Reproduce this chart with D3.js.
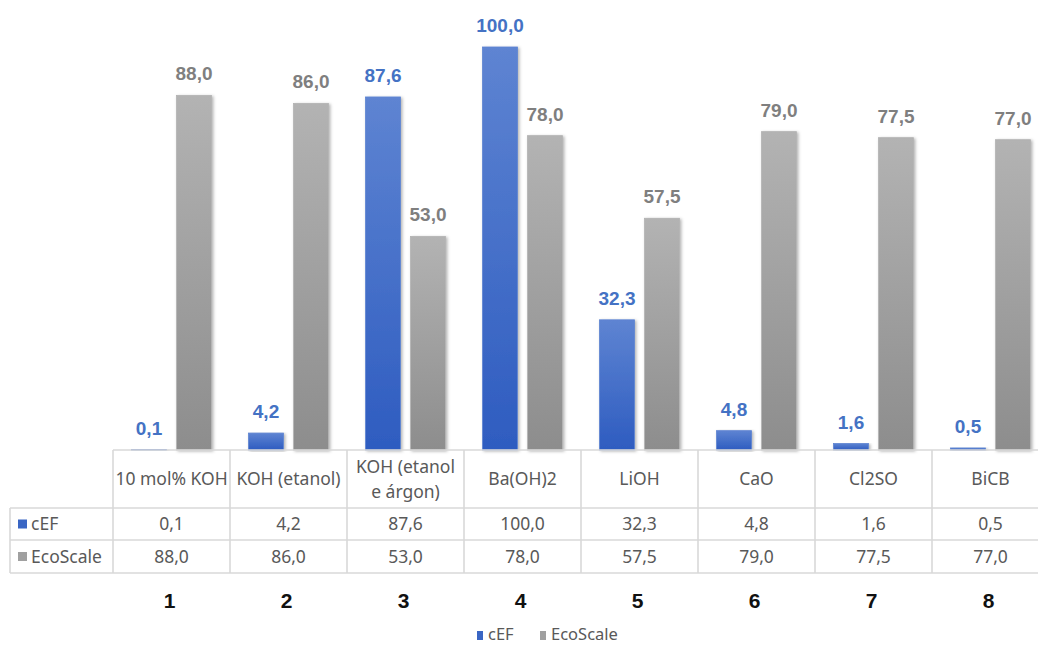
<!DOCTYPE html>
<html>
<head>
<meta charset="utf-8">
<script src="https://cdn.jsdelivr.net/npm/d3@7"></script>
<style>
  html, body { margin: 0; padding: 0; background: #ffffff; }
  svg { display: block; }
</style>
</head>
<body>
<svg id="chart" width="1038" height="646"></svg>
<script>
// Catalyst labels (header row of the data table); "\n" splits a label into two lines
const categories = ["10 mol% KOH", "KOH (etanol)", "KOH (etanol\ne árgon)", "Ba(OH)2", "LiOH", "CaO", "Cl2SO", "BiCB"];
// Entry numbers printed under the table
const entryLabels = ["1", "2", "3", "4", "5", "6", "7", "8"];
// Series
const seriesNames = ["cEF", "EcoScale"];
const cEF = [0.1, 4.2, 87.6, 100.0, 32.3, 4.8, 1.6, 0.5];
const ecoScale = [88.0, 86.0, 53.0, 78.0, 57.5, 79.0, 77.5, 77.0];

const seriesValues = { "cEF": cEF, "EcoScale": ecoScale };
const fmt = v => d3.format(".1f")(v).replace(".", ",");

const svg = d3.select("#chart");

// geometry
const plotLeft = 113, bandW = 117;
const baseY = 450, topY = 47;
const rowLabelLeft = 10;
const headerBottom = 508, row1Bottom = 540, row2Bottom = 573;

const x = d3.scaleBand()
  .domain(d3.range(categories.length))
  .range([plotLeft, plotLeft + bandW * categories.length])
  .padding(0);

const xs = d3.scaleBand()
  .domain(seriesNames)
  .range([18.5, 98.5])
  .paddingInner(10 / 45);

const y = d3.scaleLinear().domain([0, 100]).range([baseY, topY]);

const colors = {
  "cEF": { top: "#5e84d2", bottom: "#2e5cc0", label: "#4472c4", key: "#3a66c4" },
  "EcoScale": { top: "#b3b3b3", bottom: "#8d8d8d", label: "#7f7f7f", key: "#a0a0a0" }
};

// gradients and shadow
const defs = svg.append("defs");
seriesNames.forEach((s, i) => {
  const g = defs.append("linearGradient")
    .attr("id", "grad" + i)
    .attr("x1", 0).attr("y1", 0).attr("x2", 0).attr("y2", 1);
  g.append("stop").attr("offset", "0%").attr("stop-color", colors[s].top);
  g.append("stop").attr("offset", "100%").attr("stop-color", colors[s].bottom);
});
const f = defs.append("filter").attr("id", "shadow")
  .attr("x", "-20%").attr("y", "-5%").attr("width", "150%").attr("height", "115%");
f.append("feDropShadow")
  .attr("dx", 1.5).attr("dy", 1).attr("stdDeviation", 1.5)
  .attr("flood-color", "#000").attr("flood-opacity", 0.3);

// bars
const groups = svg.append("g").selectAll("g")
  .data(categories.map((c, i) => i))
  .join("g")
  .attr("transform", i => `translate(${x(i)},0)`);

groups.selectAll("rect")
  .data(i => seriesNames.map((s, k) => ({ s, k, v: seriesValues[s][i] })))
  .join("rect")
  .attr("x", d => xs(d.s))
  .attr("y", d => y(d.v))
  .attr("width", xs.bandwidth())
  .attr("height", d => baseY - y(d.v))
  .attr("fill", d => `url(#grad${d.k})`)
  .attr("stroke", d => colors[d.s].top)
  .attr("stroke-width", 0.8)
  .attr("filter", "url(#shadow)");

// value labels
groups.selectAll("text.val")
  .data(i => seriesNames.map((s, k) => ({ s, k, v: seriesValues[s][i] })))
  .join("text")
  .attr("class", "val")
  .attr("x", d => xs(d.s) + xs.bandwidth() / 2)
  .attr("y", d => y(d.v) - 15)
  .attr("text-anchor", "middle")
  .attr("font-family", "Liberation Sans, Arial, sans-serif")
  .attr("font-weight", "bold")
  .attr("font-size", 19)
  .attr("fill", d => colors[d.s].label)
  .text(d => fmt(d.v));

// data table grid
const gridColor = "#d9d9d9";
const grid = svg.append("g").attr("stroke", gridColor).attr("stroke-width", 1.6);
const tableRight = x.range()[1];
grid.append("line").attr("x1", plotLeft).attr("x2", tableRight).attr("y1", baseY).attr("y2", baseY);
[headerBottom, row1Bottom, row2Bottom].forEach(yy => {
  grid.append("line").attr("x1", rowLabelLeft).attr("x2", tableRight).attr("y1", yy).attr("y2", yy);
});
grid.append("line").attr("x1", rowLabelLeft).attr("x2", rowLabelLeft).attr("y1", headerBottom).attr("y2", row2Bottom);
d3.range(categories.length + 1).forEach(i => {
  const xx = plotLeft + bandW * i;
  grid.append("line").attr("x1", xx).attr("x2", xx).attr("y1", baseY).attr("y2", row2Bottom);
});

const tableFont = "Noto Sans, Open Sans, sans-serif";
const textColor = "#595959";

// header row: category names
const header = svg.append("g")
  .attr("font-family", tableFont).attr("font-size", 17.5).attr("fill", textColor)
  .attr("text-anchor", "middle");
categories.forEach((c, i) => {
  const lines = c.split("\n");
  const cx = x(i) + bandW / 2;
  const cy = (baseY + headerBottom) / 2;
  const lh = 25;
  lines.forEach((ln, j) => {
    header.append("text")
      .attr("x", cx)
      .attr("y", cy + (j - (lines.length - 1) / 2) * lh)
      .attr("dy", "0.35em")
      .text(ln);
  });
});

// value rows
const rowsY = { "cEF": (headerBottom + row1Bottom) / 2, "EcoScale": (row1Bottom + row2Bottom) / 2 };
const rows = svg.append("g")
  .attr("font-family", tableFont).attr("font-size", 17.5).attr("fill", textColor);
seriesNames.forEach(s => {
  const ry = rowsY[s];
  rows.append("rect")
    .attr("x", 18).attr("y", ry - 4.5).attr("width", 9).attr("height", 9)
    .attr("fill", colors[s].key);
  rows.append("text")
    .attr("x", 31).attr("y", ry).attr("dy", "0.35em")
    .text(s);
  seriesValues[s].forEach((v, i) => {
    rows.append("text")
      .attr("x", x(i) + bandW / 2).attr("y", ry).attr("dy", "0.35em")
      .attr("text-anchor", "middle")
      .text(fmt(v));
  });
});

// entry numbers
svg.append("g")
  .selectAll("text")
  .data(entryLabels)
  .join("text")
  .attr("x", (d, i) => x(i) + bandW / 2 - 2)
  .attr("y", 601)
  .attr("dy", "0.35em")
  .attr("text-anchor", "middle")
  .attr("font-family", "Liberation Sans, Arial, sans-serif")
  .attr("font-weight", "bold")
  .attr("font-size", 21)
  .attr("fill", "#111")
  .text(d => d);

// legend
const legend = svg.append("g")
  .attr("font-family", tableFont).attr("font-size", 16.5).attr("fill", textColor);
const legendItems = [
  { s: "cEF", x: 477 },
  { s: "EcoScale", x: 540 }
];
legendItems.forEach(it => {
  legend.append("rect")
    .attr("x", it.x).attr("y", 631).attr("width", 6).attr("height", 9)
    .attr("fill", colors[it.s].key);
  legend.append("text")
    .attr("x", it.x + 11).attr("y", 634).attr("dy", "0.35em")
    .text(it.s);
});
</script>
</body>
</html>
